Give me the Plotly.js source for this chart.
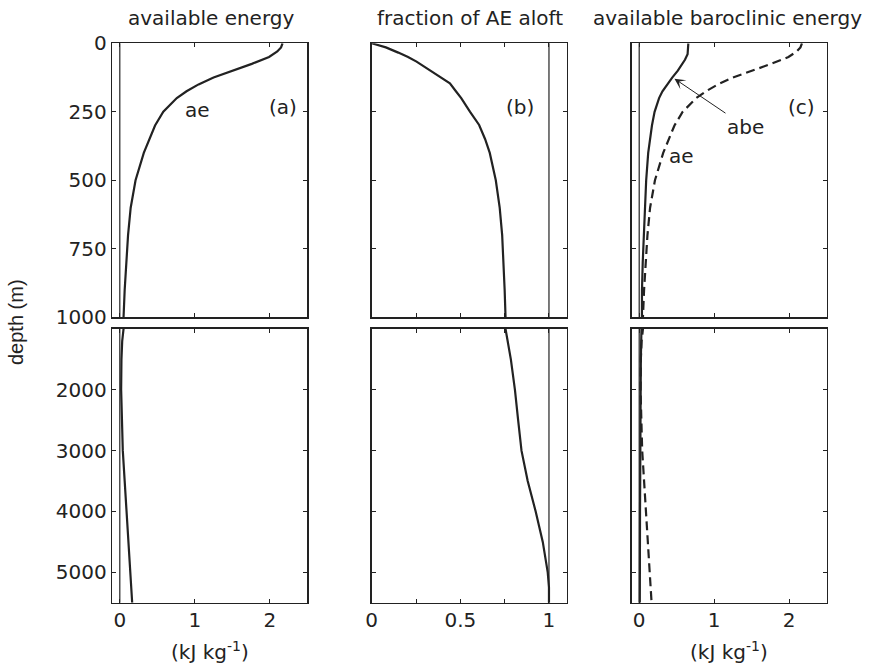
<!DOCTYPE html>
<html>
<head>
<meta charset="utf-8">
<script src="https://cdn.plot.ly/plotly-3.0.1.min.js"></script>
<style>html,body{margin:0;padding:0;background:#fff;}#chart{width:870px;height:670px;}</style>
</head>
<body>
<div id="chart"></div>
<script>
// ---- data ----
const aeDepth = [0,15,30,50,75,100,125,150,175,200,250,300,350,400,500,600,700,800,900,1000,1200,1500,2000,2500,3000,3500,4000,4500,5000,5500];
const aeValue = [2.17,2.15,2.10,1.99,1.76,1.49,1.25,1.05,0.89,0.76,0.58,0.47,0.39,0.32,0.21,0.145,0.11,0.085,0.065,0.05,0.032,0.022,0.018,0.025,0.04,0.065,0.09,0.115,0.14,0.165];

const fracDepth = [0,15,34,50,67,85,100,116,130,146,175,200,250,298,350,400,500,600,700,800,900,1000,1500,2000,2500,3000,3500,4000,4500,5000,5250,5500];
const fracValue = [0,0.08,0.15,0.205,0.253,0.295,0.33,0.366,0.40,0.441,0.475,0.505,0.555,0.606,0.64,0.666,0.70,0.722,0.736,0.745,0.75,0.755,0.785,0.808,0.826,0.845,0.88,0.925,0.965,0.993,1.0,1.0];

const abeDepth = [0,20,40,60,80,100,125,150,175,200,250,300,350,400,500,600,700,800,900,1000,1500,2000,3000,4000,5000,5500];
const abeValue = [0.655,0.655,0.645,0.61,0.565,0.515,0.44,0.37,0.31,0.265,0.205,0.17,0.145,0.12,0.093,0.075,0.058,0.047,0.037,0.03,0.022,0.018,0.014,0.011,0.009,0.008];

const refLineEnergy = 0;     // thin reference line in panels (a),(c)
const refLineFraction = 1;   // thin reference line in panel (b)

const topDepthTicks = [0,250,500,750,1000];
const bottomDepthTicks = [2000,3000,4000,5000];
const energyTicks = [0,1,2];
const fractionTicks = [0,0.5,1];
const fractionTickText = ['0','0.5','1'];
const fractionMinorStep = 0.25;

const panelTitles = ['available energy','fraction of AE aloft','available baroclinic energy'];
const panelLetters = ['(a)','(b)','(c)'];

// ---- styling ----
const INK = '#222';
const FONT = 'DejaVu Sans, sans-serif';
const W = 870, H = 670;
const colPx = [[112.3,307.3],[371.7,566.7],[631.7,826.7]];
const rowPx = [[43.3,317.3],[329,602.7]];
const xd = c => [colPx[c][0]/W, colPx[c][1]/W];
const yd = r => [1-rowPx[r][1]/H, 1-rowPx[r][0]/H];

function xAxis(c, r, anchorIdx) {
  const isFrac = c === 1;
  const ax = {
    domain: xd(c), anchor: 'y' + (anchorIdx === 1 ? '' : anchorIdx),
    range: isFrac ? [0, 1.1] : [-0.1, 2.5],
    tickmode: 'array',
    tickvals: isFrac ? fractionTicks : energyTicks,
    ticktext: isFrac ? fractionTickText : energyTicks.map(String),
    showticklabels: r === 1,
    ticks: 'inside', ticklen: 4, tickwidth: 1, tickcolor: INK,
    showline: true, linecolor: INK, linewidth: 1.6, mirror: 'ticks',
    showgrid: false, zeroline: false, fixedrange: true,
    tickfont: {family: FONT, size: 20, color: INK},
    ticklabelposition: 'outside',
    ticklabelstandoff: -1
  };
  if (isFrac) {
    ax.minor = {dtick: fractionMinorStep, tick0: 0, ticks: 'inside', ticklen: 4, tickwidth: 1, tickcolor: INK, showgrid: false};
  }
  return ax;
}
function yAxis(c, r, anchorIdx) {
  return {
    domain: yd(r), anchor: 'x' + (anchorIdx === 1 ? '' : anchorIdx),
    range: r === 0 ? [1000, 0] : [5500, 1000],
    tickmode: 'array',
    tickvals: r === 0 ? topDepthTicks : bottomDepthTicks,
    showticklabels: c === 0,
    ticks: 'inside', ticklen: 4, tickwidth: 1, tickcolor: INK,
    showline: true, linecolor: INK, linewidth: 1.6, mirror: 'ticks',
    showgrid: false, zeroline: false, fixedrange: true,
    tickfont: {family: FONT, size: 20, color: INK}
  };
}

const layout = {
  width: W, height: H,
  margin: {l: 0, r: 0, t: 0, b: 0},
  paper_bgcolor: '#fff', plot_bgcolor: '#fff',
  showlegend: false,
  font: {family: FONT, size: 20, color: INK},
  annotations: [], shapes: []
};

const data = [];
let idx = 1;
const axisIndex = {};
for (let r = 0; r < 2; r++) {
  for (let c = 0; c < 3; c++) {
    const s = idx === 1 ? '' : idx;
    layout['xaxis' + s] = xAxis(c, r, idx);
    layout['yaxis' + s] = yAxis(c, r, idx);
    axisIndex[r + '_' + c] = s;
    idx++;
  }
}

function addTrace(r, c, x, y, dash) {
  const s = axisIndex[r + '_' + c];
  data.push({
    type: 'scatter', mode: 'lines', x: x, y: y,
    xaxis: 'x' + s, yaxis: 'y' + s,
    line: {color: INK, width: 2.2, dash: dash || 'solid'},
    hoverinfo: 'skip'
  });
}
function addRefLine(r, c, xv) {
  const s = axisIndex[r + '_' + c];
  layout.shapes.push({
    type: 'line', xref: 'x' + s, yref: 'y' + s + ' domain',
    x0: xv, x1: xv, y0: 0, y1: 1,
    line: {color: '#222', width: 1.2}
  });
}

for (let r = 0; r < 2; r++) {
  addTrace(r, 0, aeValue, aeDepth);
  addTrace(r, 1, fracValue, fracDepth);
  addTrace(r, 2, aeValue, aeDepth, '9px,5px');
  addTrace(r, 2, abeValue, abeDepth);
  addRefLine(r, 0, refLineEnergy);
  addRefLine(r, 1, refLineFraction);
  addRefLine(r, 2, refLineEnergy);
}

// panel titles
const titleX = [210.5, 470, 727];
panelTitles.forEach((t, c) => {
  layout.annotations.push({
    xref: 'paper', yref: 'paper', x: titleX[c] / W, y: 1 - 18 / H,
    xanchor: 'center', yanchor: 'middle', showarrow: false,
    text: t, font: {family: FONT, size: 20, color: INK}
  });
});

// x axis titles
[0, 2].forEach(c => {
  layout.annotations.push({
    xref: 'paper', yref: 'paper', x: (colPx[c][0] + colPx[c][1]) / 2 / W, y: 1 - 651 / H,
    xanchor: 'center', yanchor: 'middle', showarrow: false,
    text: '(kJ kg<sup>-1</sup>)', font: {family: FONT, size: 20, color: INK}
  });
});

// y axis title
layout.annotations.push({
  xref: 'paper', yref: 'paper', x: 16 / W, y: 1 - 322 / H,
  xanchor: 'center', yanchor: 'middle', showarrow: false, textangle: -90,
  text: 'depth (m)', font: {family: 'Liberation Sans, Arial, sans-serif', size: 20, color: INK}
});

// panel letters
const letterPos = [[2.18, 234], [0.836, 234], [2.16, 234]];
panelLetters.forEach((t, c) => {
  const s = axisIndex['0_' + c];
  layout.annotations.push({
    xref: 'x' + s, yref: 'y' + s, x: letterPos[c][0], y: letterPos[c][1],
    xanchor: 'center', yanchor: 'middle', showarrow: false,
    text: t, font: {family: FONT, size: 20, color: INK}
  });
});

// curve labels
layout.annotations.push({
  xref: 'x', yref: 'y', x: 1.04, y: 245, xanchor: 'center', yanchor: 'middle',
  showarrow: false, text: 'ae', font: {family: FONT, size: 20, color: INK}
});
layout.annotations.push({
  xref: 'x3', yref: 'y3', x: 0.57, y: 412, xanchor: 'center', yanchor: 'middle',
  showarrow: false, text: 'ae', font: {family: FONT, size: 20, color: INK}
});
layout.annotations.push({
  xref: 'x3', yref: 'y3', x: 0.47, y: 129,
  showarrow: true, arrowhead: 3, arrowsize: 1.8, arrowwidth: 1, arrowcolor: INK,
  ax: 71, ay: 48, axref: 'pixel', ayref: 'pixel',
  text: 'abe', font: {family: FONT, size: 20, color: INK}
});

Plotly.newPlot('chart', data, layout, {staticPlot: true, displayModeBar: false});
</script>
</body>
</html>
